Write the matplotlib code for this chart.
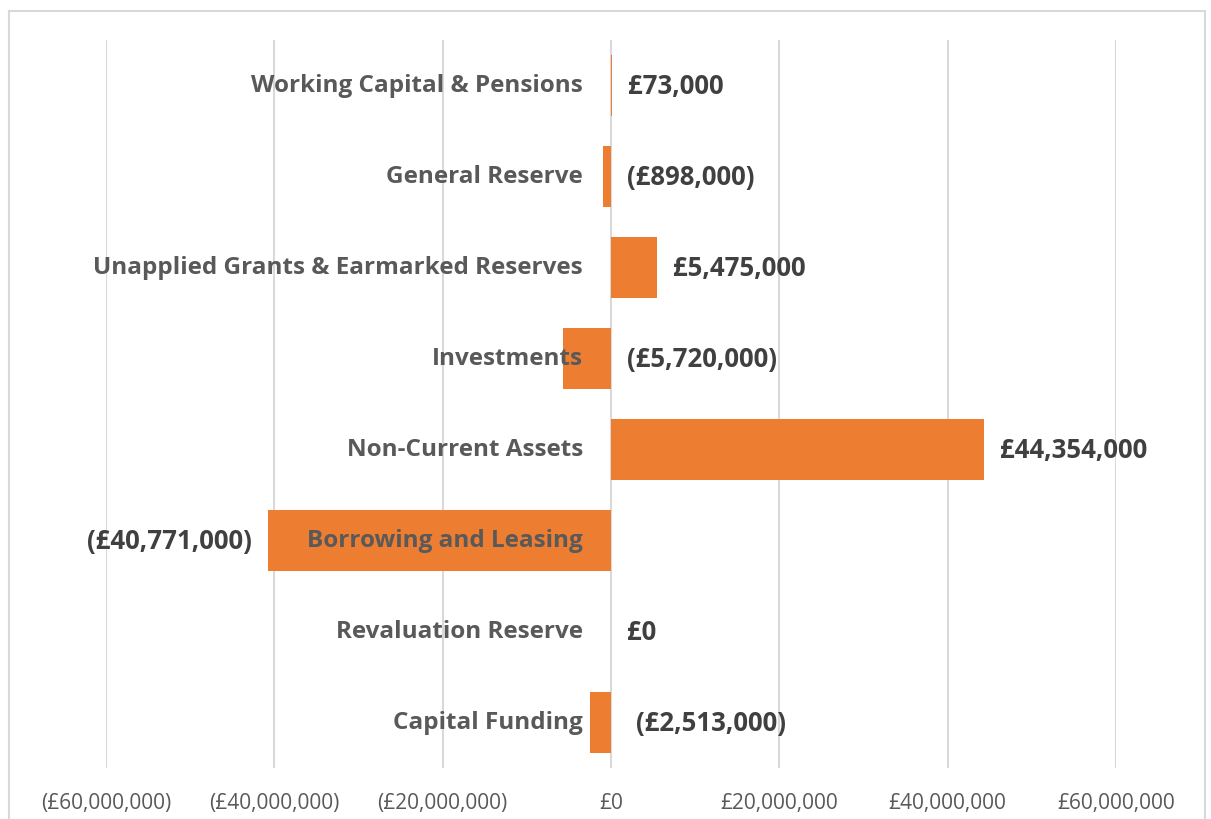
import matplotlib.pyplot as plt
from matplotlib.lines import Line2D
import numpy as np

# Balance sheet movements (top to bottom as shown)
categories = ['Working Capital & Pensions', 'General Reserve',
              'Unapplied Grants & Earmarked Reserves', 'Investments',
              'Non-Current Assets', 'Borrowing and Leasing',
              'Revaluation Reserve', 'Capital Funding']
values = [73000, -898000, 5475000, -5720000, 44354000, -40771000, 0, -2513000]
tick_vals = [-60e6, -40e6, -20e6, 0, 20e6, 40e6, 60e6]


def money(v):
    s = '£{:,.0f}'.format(abs(v))
    return '(' + s + ')' if v < 0 else s


plt.rcParams['font.family'] = ['Open Sans', 'DejaVu Sans']
fig = plt.figure(figsize=(12.11, 8.2), dpi=100)
ax = fig.add_axes([106/1211, 1-769/820, 1010/1211, 728/820])

y = np.arange(len(categories))
ax.barh(y, values, height=0.66, color='#ED7D31', zorder=3)
ax.set_ylim(len(categories)-0.5, -0.5)
ax.set_xlim(-60e6, 60e6)
ax.set_xticks(tick_vals)
ax.set_xticklabels([money(v) for v in tick_vals], fontsize=15, color='#595959')
ax.tick_params(axis='x', length=0, pad=17)
ax.set_yticks([])
ax.grid(axis='x', color='#D9D9D9', lw=1.5, zorder=0)
for s in ax.spines.values():
    s.set_visible(False)

px = 120e6/1010  # data units per pixel
for i, (c, v) in enumerate(zip(categories, values)):
    ax.text(-28*px, i, c, ha='right', va='center', fontsize=17.5,
            fontweight='bold', color='#595959', zorder=4)
    if v < -20e6:
        ax.text(v - 16*px, i, money(v), ha='right', va='center', fontsize=18.5,
                fontweight='bold', color='#404040')
    else:
        off = 25*px if i == 7 else 16*px
        ax.text(max(v, 0) + off, i, money(v), ha='left', va='center',
                fontsize=18.5, fontweight='bold', color='#404040')

# outer chart border (top, left, right)
W, H = 1211, 820
for xs, ys in [([9, 9], [820, 12]), ([9, 1205], [12, 12]), ([1205, 1205], [12, 820])]:
    fig.add_artist(Line2D([a/W for a in xs], [1-b/H for b in ys],
                          color='#D9D9D9', lw=1.5, transform=fig.transFigure))

fig.savefig('out.png', dpi=100)
